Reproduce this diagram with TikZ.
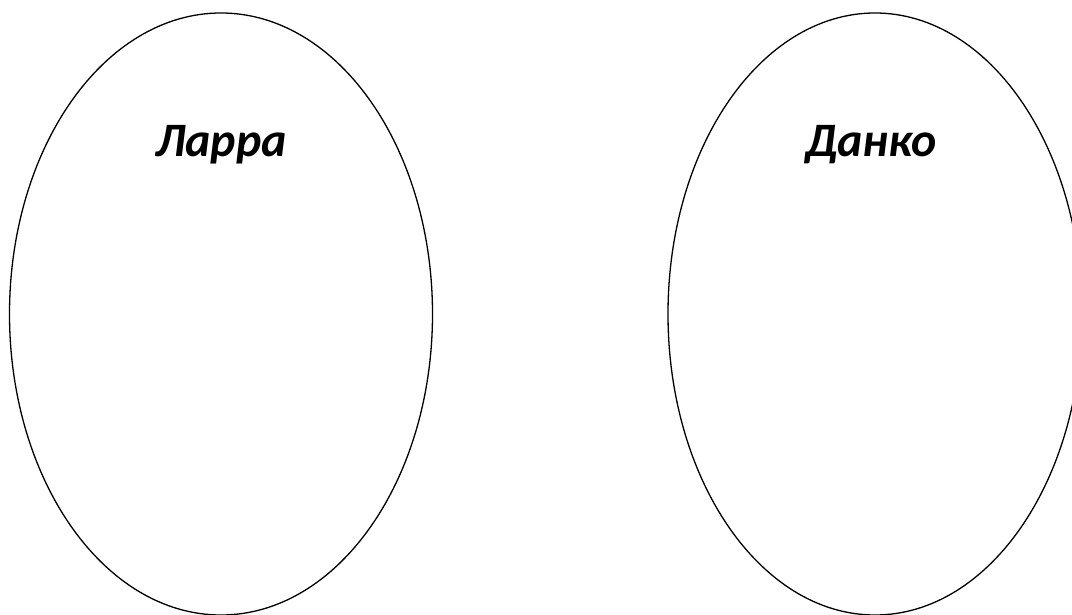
\documentclass[tikz,border=0pt]{standalone}
\usepackage{fontspec}
\setmainfont{Carlito}
\usetikzlibrary{shapes.geometric, positioning}

\tikzset{
  oval/.style={draw=black, line width=0.65pt, ellipse, inner sep=0pt},
  hero/.style={font=\fontsize{24}{28}\selectfont\bfseries\itshape, anchor=base}
}

\begin{document}
\begin{tikzpicture}[x=0.5pt, y=-0.5pt]
  \useasboundingbox (0,0) rectangle (1072,615);
  \clip (0,0) rectangle (1072,615);
  \fill[white] (0,0) rectangle (1072,615);
  % two ovals
  \node[oval, minimum width=211.5pt, minimum height=301pt] (larra) at (221,314) {};
  \node[oval, minimum width=207pt, minimum height=301pt] (danko) at (875,314) {};
  % names
  \node[hero] (larraname) at (221,157) {Ларра};
  \node[hero] (dankoname) at (871,157) {Данко};
\end{tikzpicture}
\end{document}
